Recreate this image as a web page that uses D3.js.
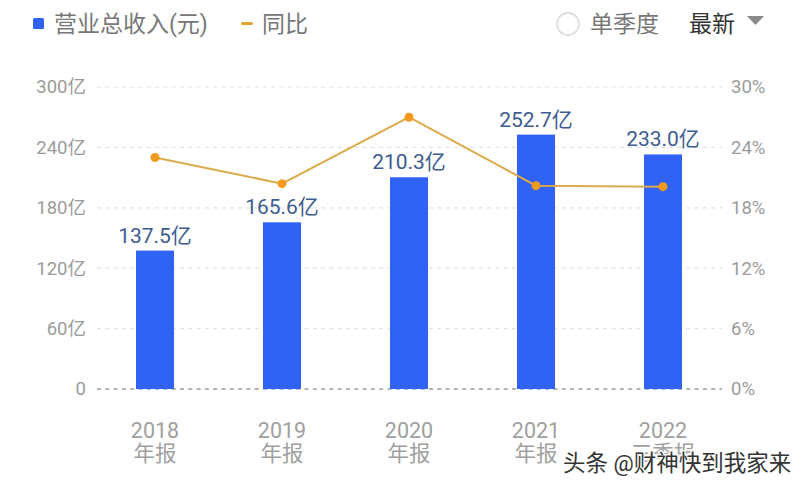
<!doctype html>
<html>
  <head>
    <meta charset="utf-8">
    <title>营业总收入</title>
    <script src="https://cdnjs.cloudflare.com/ajax/libs/d3/7.8.5/d3.min.js"></script>
    <style>
      body { margin: 0; background: #fff; }
      text { font-family: Roboto, "Noto Sans CJK SC", sans-serif; }
    </style>
  </head>
  <body>
    <div id="chart"></div>
    <script>
      // data
      const years = ['2018', '2019', '2020', '2021', '2022'];
      const periods = ['年报', '年报', '年报', '年报', '三季报'];
      const revenue = [137.5, 165.6, 210.3, 252.7, 233.0];   // 亿
      const growth = [23.0, 20.4, 27.0, 20.2, 20.1];          // %
      const leftTicks = [0, 60, 120, 180, 240, 300];
      const rightTicks = [0, 6, 12, 18, 24, 30];

      const W = 800, H = 483;
      const svg = d3.select('#chart').append('svg')
        .attr('width', W).attr('height', H);

      const x = d3.scaleBand().domain(years).range([91.5, 726.5]);
      const yL = d3.scaleLinear().domain([0, 300]).range([389, 87]);
      const yR = d3.scaleLinear().domain([0, 30]).range([389, 87]);

      // gridlines
      svg.selectAll('line.grid')
        .data(leftTicks)
        .join('line')
        .attr('x1', 97).attr('x2', 722)
        .attr('y1', d => yL(d)).attr('y2', d => yL(d))
        .attr('stroke', d => d === 0 ? '#9a9a9a' : '#e2e2e2')
        .attr('stroke-width', d => d === 0 ? 1.5 : 1.2)
        .attr('stroke-dasharray', '4,4.3');

      // left axis labels
      svg.selectAll('text.yl')
        .data(leftTicks)
        .join('text')
        .attr('x', 86).attr('y', d => yL(d))
        .attr('dy', '0.35em')
        .attr('text-anchor', 'end')
        .attr('fill', '#9b9b9b')
        .attr('font-size', 18.5)
        .text(d => d === 0 ? '0' : d + '亿');

      // right axis labels
      svg.selectAll('text.yr')
        .data(rightTicks)
        .join('text')
        .attr('x', 731).attr('y', d => yR(d))
        .attr('dy', '0.35em')
        .attr('fill', '#9b9b9b')
        .attr('font-size', 18.5)
        .text(d => d + '%');

      // bars
      const bw = 38;
      const cx = d => x(d) + x.bandwidth() / 2;
      svg.selectAll('rect.bar')
        .data(revenue)
        .join('rect')
        .attr('x', (d, i) => cx(years[i]) - bw / 2)
        .attr('y', d => yL(d))
        .attr('width', bw)
        .attr('height', d => yL(0) - yL(d))
        .attr('fill', '#2f62f5');

      // bar value labels
      svg.selectAll('text.val')
        .data(revenue)
        .join('text')
        .attr('x', (d, i) => cx(years[i]))
        .attr('y', d => yL(d) - 8)
        .attr('text-anchor', 'middle')
        .attr('fill', '#3d5c8f')
        .attr('font-size', 21)
        .text(d => d.toFixed(1) + '亿');

      // growth line
      const line = d3.line()
        .x((d, i) => cx(years[i]))
        .y(d => yR(d));
      svg.append('path')
        .datum(growth)
        .attr('d', line)
        .attr('fill', 'none')
        .attr('stroke', '#dcaa4a')
        .attr('stroke-width', 2);
      svg.selectAll('circle.dot')
        .data(growth)
        .join('circle')
        .attr('cx', (d, i) => cx(years[i]))
        .attr('cy', d => yR(d))
        .attr('r', 4.5)
        .attr('fill', '#f39a1c');

      // x labels
      const xl = svg.selectAll('g.xl')
        .data(years)
        .join('g')
        .attr('transform', d => `translate(${cx(d)},0)`);
      xl.append('text')
        .attr('y', 438)
        .attr('text-anchor', 'middle')
        .attr('fill', '#a0a0a0')
        .attr('font-size', 21.5)
        .text(d => d);
      xl.append('text')
        .attr('y', 461)
        .attr('text-anchor', 'middle')
        .attr('fill', '#a0a0a0')
        .attr('font-size', 21.5)
        .text((d, i) => periods[i]);

      // legend
      svg.append('rect')
        .attr('x', 33).attr('y', 18).attr('width', 11).attr('height', 11)
        .attr('rx', 1.5).attr('fill', '#2f62f5');
      svg.append('text')
        .attr('x', 54).attr('y', 24).attr('dy', '0.35em')
        .attr('fill', '#777').attr('font-size', 23)
        .text('营业总收入(元)');
      svg.append('rect')
        .attr('x', 241).attr('y', 22).attr('width', 12).attr('height', 3)
        .attr('rx', 1.5).attr('fill', '#e3a32f');
      svg.append('text')
        .attr('x', 262).attr('y', 24).attr('dy', '0.35em')
        .attr('fill', '#777').attr('font-size', 23)
        .text('同比');

      svg.append('circle')
        .attr('cx', 568).attr('cy', 24).attr('r', 11)
        .attr('fill', 'none').attr('stroke', '#d6d6d6').attr('stroke-width', 1.3);
      svg.append('text')
        .attr('x', 590).attr('y', 24).attr('dy', '0.35em')
        .attr('fill', '#777').attr('font-size', 23)
        .text('单季度');
      svg.append('text')
        .attr('x', 689).attr('y', 24).attr('dy', '0.35em')
        .attr('fill', '#333').attr('font-size', 23)
        .text('最新');
      svg.append('path')
        .attr('d', 'M747,16 L764,16 L755.5,25 Z')
        .attr('fill', '#8a8a8a');

      // watermark
      svg.append('text')
        .attr('x', 563).attr('y', 463).attr('dy', '0.35em')
        .attr('fill', '#333').attr('font-size', 22.5)
        .attr('stroke', '#fff').attr('stroke-width', 3)
        .attr('paint-order', 'stroke')
        .text('头条 @财神快到我家来');
    </script>
  </body>
</html>
